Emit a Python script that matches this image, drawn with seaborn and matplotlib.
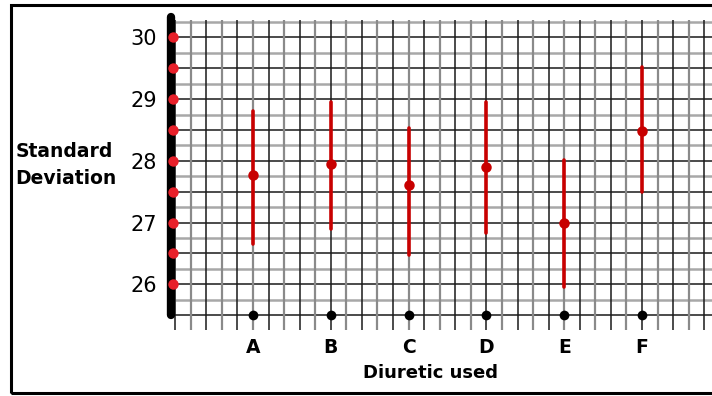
import numpy as np
import pandas as pd
import matplotlib
matplotlib.use("Agg")
import matplotlib.pyplot as plt
import seaborn as sns
from matplotlib.patches import Rectangle

# values
diuretics = ["A", "B", "C", "D", "E", "F"]
sd_mean = [27.77, 27.95, 27.61, 27.90, 27.00, 28.49]
sd_low = [26.65, 26.90, 26.48, 26.83, 25.95, 27.50]
sd_high = [28.80, 28.95, 28.53, 28.96, 28.02, 29.52]
baseline = [25.5, 25.5, 25.5, 25.5, 25.5, 25.5]
axis_dots = [26.0, 26.5, 27.0, 27.5, 28.0, 28.5, 29.0, 29.5, 30.0]
y_ticks = [26, 27, 28, 29, 30]

# long table: low / mean / high per diuretic -> median = mean, 100% interval = range
df = pd.DataFrame({
    "Diuretic": diuretics * 3,
    "SD": sd_low + sd_mean + sd_high,
})

sns.set_style("white")
plt.rcParams["font.family"] = ["DejaVu Sans"]
plt.rcParams["text.color"] = "black"
plt.rcParams["xtick.color"] = "black"
plt.rcParams["ytick.color"] = "black"
plt.rcParams["axes.labelcolor"] = "black"

fig = plt.figure(figsize=(7.12, 3.96), dpi=100)
ax = fig.add_axes([171 / 712, 1 - 330 / 396, 541 / 712, 313 / 396])

# graph paper
xlo, xhi = -1.054, 5.90
ylo, yhi = 25.26, 30.33
for i, y in enumerate(np.arange(25.5, 30.3, 0.25)):
    dark = i % 2 == 0
    ax.hlines(y, -1.0, xhi, color="#1a1a1a" if dark else "#a8a8a8",
              lw=1.1 if dark else 1.8, zorder=0.5)
for i, x in enumerate(np.arange(-1.0, 5.9, 0.2)):
    dark = i % 2 == 0
    ax.vlines(x, ylo, 30.28, color="#1a1a1a" if dark else "#8a8a8a",
              lw=1.1 if dark else 1.6, zorder=0.5)

sns.pointplot(data=df, x="Diuretic", y="SD", order=diuretics,
              estimator="median", errorbar=("pi", 100), linestyle="none",
              color="#c80000", markers="o", markersize=5.5,
              err_kws={"linewidth": 2.6}, ax=ax, zorder=3)

sns.stripplot(x=diuretics, y=baseline, order=diuretics, jitter=False,
              color="black", size=7, ax=ax, zorder=4)

ax.scatter(np.zeros(len(axis_dots)) + 0.004, axis_dots, s=42, color="#e8202a",
           transform=ax.get_yaxis_transform(), clip_on=False, zorder=6)

ax.set_xlim(xlo, xhi)
ax.set_ylim(ylo, yhi)

for s in ["top", "right", "bottom"]:
    ax.spines[s].set_visible(False)
ax.spines["left"].set_linewidth(6)
ax.spines["left"].set_color("black")
ax.spines["left"].set_bounds(25.5, 30.33)
ax.spines["left"].set_capstyle("round")

ax.set_yticks(y_ticks)
ax.set_yticklabels([str(t) for t in y_ticks], fontsize=15)
ax.set_xticks(range(len(diuretics)))
ax.set_xticklabels(diuretics, fontsize=13.5, fontweight="bold")
ax.tick_params(axis="y", length=0, pad=10)
ax.tick_params(axis="x", length=0, pad=6)

ax.set_xlabel("Diuretic used", fontsize=13, fontweight="bold")
ax.xaxis.set_label_coords(0.479, -0.11)
ax.set_ylabel("Standard\nDeviation", fontsize=13.5, fontweight="bold",
              rotation=0, ha="left", va="center", linespacing=1.5)
ax.yaxis.set_label_coords(-0.288, 0.527)

fig.patches.append(Rectangle((11 / 712, 0.0076), 1.2, 0.98, transform=fig.transFigure,
                             fill=False, lw=2.2, edgecolor="black"))

fig.savefig("out.png", dpi=100)
